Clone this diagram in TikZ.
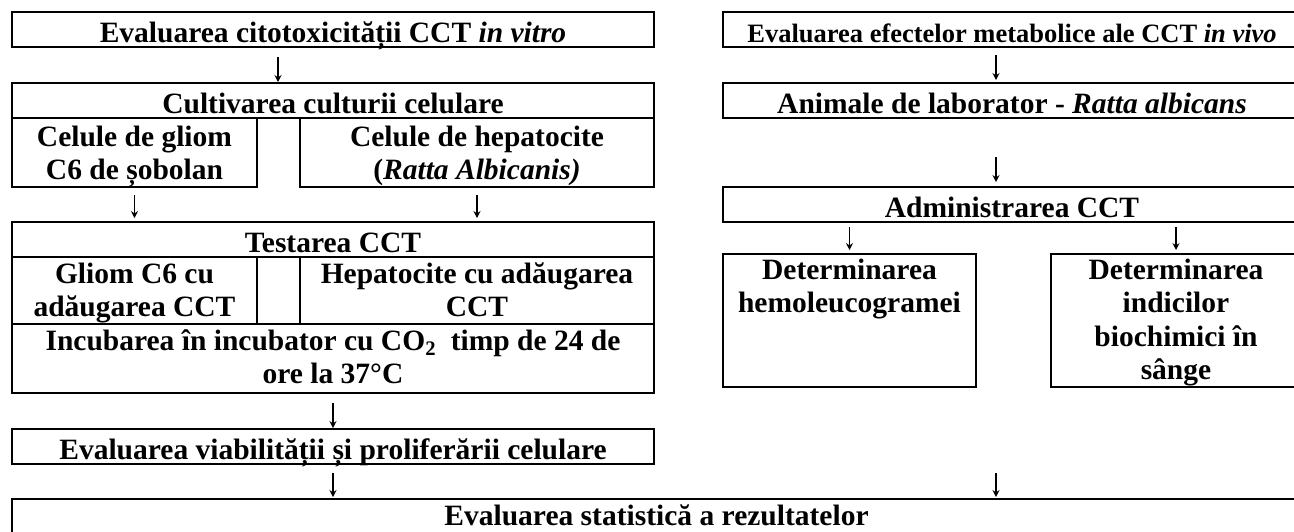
\documentclass[tikz,border=0pt]{standalone}
\usepackage{fontspec}
\setmainfont{Liberation Serif}
\usepackage{tikz}
\usetikzlibrary{arrows.meta,positioning}

\begin{document}
\begin{tikzpicture}[
        x=1pt, y=-1pt,
        every node/.style={font=\bfseries\fontsize{29.5}{33.4}\selectfont},
        box/.style={rectangle, draw, line width=2pt, inner sep=0pt, outer sep=0pt, align=center},
        titlebox/.style={box, minimum height=35pt, text height=30.7pt, text depth=4.3pt},
        cellbox/.style={box, align=flush center, text width=#1, minimum width=#1, text height=28.1pt, text depth=40.9pt},
        arr/.style={-{Stealth[length=7pt, width=7pt, inset=2.5pt]}, line width=1.2pt}
    ]
        \useasboundingbox (0,0) rectangle (1294,531);

        % Left branch: in vitro
        \node[titlebox, minimum width=642pt, anchor=north west] (vitro) at (12,12) {Evaluarea citotoxicității CCT \textit{in vitro}};
        \node[titlebox, minimum width=642pt, below=36pt of vitro] (cult) {Cultivarea culturii celulare};
        \node[cellbox=245pt, anchor=north west] (glia) at (cult.south west) {Celule de gliom\\C6 de șobolan};
        \node[cellbox=354pt, anchor=north east] (hepa) at (cult.south east) {Celule de hepatocite\\(\textit{Ratta Albicanis)}};

        % Testing table
        \node[titlebox, minimum width=642pt, anchor=north west] (test) at (12,222) {Testarea CCT};
        \node[cellbox=245pt, text height=26.1pt, anchor=north west] (gliacct) at (test.south west) {Gliom C6 cu\\adăugarea CCT};
        \node[box, minimum width=43pt, minimum height=67pt, anchor=north west] (gap) at (gliacct.north east) {};
        \node[cellbox=354pt, text height=26.1pt, anchor=north east] (hepacct) at (test.south east) {Hepatocite cu adăugarea\\CCT};
        \node[cellbox=642pt, text height=26pt, text depth=43pt, anchor=north west] (incub) at (gliacct.south west) {Incubarea în incubator cu CO\textsubscript{2}~ timp de 24 de\\ore la 37°C};
        \node[titlebox, minimum width=642pt, below=36pt of incub] (viab) {Evaluarea viabilității și proliferării celulare};

        % Right branch: in vivo
        \node[titlebox, minimum width=578pt, anchor=north west, font=\bfseries\fontsize{26.5}{30}\selectfont] (vivo) at (723,12) {Evaluarea efectelor metabolice ale CCT \textit{in vivo}};
        \node[titlebox, minimum width=578pt, below=36pt of vivo] (lab) {Animale de laborator - \textit{Ratta albicans}};
        \node[titlebox, minimum width=578pt, anchor=north west] (admin) at (723,187) {Administrarea CCT};
        \node[cellbox=253pt, text height=25.3pt, text depth=107.7pt, anchor=north west] (hemo) at (723,254) {Determinarea\\hemoleucogramei};
        \node[cellbox=250pt, text height=25.3pt, text depth=107.7pt, anchor=north west] (bio) at (1051,254) {Determinarea\\indicilor\\biochimici în\\sânge};

        % Results
        \node[box, minimum width=1289pt, minimum height=40pt, text height=26pt, text depth=14pt, anchor=north west] (stat) at (12,499) {Evaluarea statistică a rezultatelor};
        \coordinate (vivoend) at (996,464);

        % Arrows
        \draw[arr, shorten <=10pt, shorten >=1pt] ([xshift=-55pt]vitro.south) -- ([xshift=-55pt]cult.north);
        \draw[arr, shorten <=8pt, shorten >=4pt] (glia.south) -- (glia.south |- test.north);
        \draw[arr, shorten <=8pt, shorten >=4pt] (hepa.south) -- (hepa.south |- test.north);
        \draw[arr, shorten <=10pt, shorten >=1pt] (incub.south) -- (viab.north);
        \draw[arr, shorten <=9pt, shorten >=2pt] (viab.south) -- (viab.south |- stat.north);
        \draw[arr, shorten <=8pt, shorten >=3pt] ([xshift=-16pt]vivo.south) -- ([xshift=-16pt]lab.north);
        \draw[arr, shorten <=39pt, shorten >=5pt] ([xshift=-16pt]lab.south) -- ([xshift=-16pt]admin.north);
        \draw[arr, shorten <=5pt, shorten >=4pt] (hemo.north |- admin.south) -- (hemo.north);
        \draw[arr, shorten <=5pt, shorten >=4pt] (bio.north |- admin.south) -- (bio.north);
        \draw[arr, shorten <=9pt, shorten >=2pt] (vivoend) -- (vivoend |- stat.north);
    \end{tikzpicture}
\end{document}
